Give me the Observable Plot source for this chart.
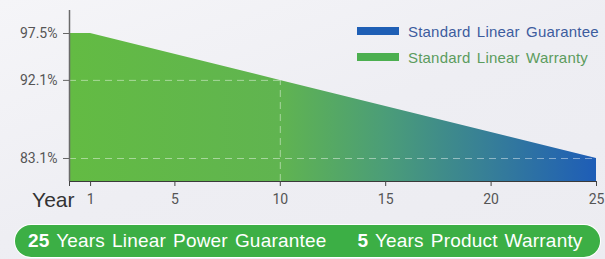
<!DOCTYPE html>
<html><head><meta charset="utf-8">
<script src="https://cdn.jsdelivr.net/npm/d3@7"></script>
<script src="https://cdn.jsdelivr.net/npm/@observablehq/plot@0.6"></script>
<style>
html,body{margin:0;padding:0;}
body{width:605px;height:259px;overflow:hidden;background:#eeeef3;font-family:Arial,"Liberation Sans",sans-serif;}
#wrap{position:relative;width:605px;height:259px;background:linear-gradient(160deg,#f5f5f8 0%,#eeeef3 50%,#ececf1 100%);}
#chart{position:absolute;left:0;top:0;}
.leg{position:absolute;left:357px;height:14px;display:flex;align-items:center;font-size:15px;word-spacing:2px;letter-spacing:0.2px;white-space:nowrap;}
.leg span.sw{display:inline-block;width:42px;height:8px;margin-right:9px;}
#banner{position:absolute;left:15px;top:225px;width:585px;height:32px;border-radius:16px;background:#3caf45;color:#fff;font-size:19px;word-spacing:1.5px;letter-spacing:0.2px;display:flex;align-items:center;white-space:nowrap;box-shadow:0 0 0 1px #fff;}
#banner .b{font-weight:bold;}
</style></head>
<body>
<div id="wrap">
  <div id="chart"></div>
  <div id="legend"></div>
  <div id="banner"></div>
</div>
<script>
// data
const years = [0, 1, 10, 25];
const values = [97.5, 97.5, 92.1, 83.1];
const yTicks = [83.1, 92.1, 97.5];
const xTicks = [0, 1, 5, 10, 15, 20, 25];
const markYears = [10, 25];
const markValues = [92.1, 83.1];
const xLabel = "Year";
const legendLabels = ["Standard Linear Guarantee", "Standard Linear Warranty"];
const legendColors = ["#1f5fb5", "#4caf50"];
const legendTextColors = ["#3d5c9e", "#5c9c5e"];
const bannerNums = ["25", "5"];
const bannerTexts = [" Years Linear Power Guarantee", " Years Product Warranty"];

const yMin = 80.45, yMax = 100.15;
const data = years.map((y, i) => ({year: y, value: values[i]}));

const gradDefs = () => {
  const defs = d3.create("svg:defs");
  const g = defs.append("linearGradient").attr("id", "areaGrad")
    .attr("x1", 0).attr("x2", 1).attr("y1", 0).attr("y2", 0);
  [[0, "#63bb43"], [0.4, "#60b450"], [0.6, "#4b9d78"], [0.8, "#367e98"], [1, "#1e5db7"]]
    .forEach(([o, c]) => g.append("stop").attr("offset", o).attr("stop-color", c));
  return defs.node();
};

const plot = Plot.plot({
  width: 605,
  height: 215,
  marginLeft: 69,
  marginRight: 9,
  marginTop: 10,
  marginBottom: 34,
  x: {domain: [0, 25]},
  y: {domain: [yMin, yMax]},
  style: {background: "transparent", color: "#555", fontFamily: "Roboto, Arial, sans-serif"},
  marks: [
    gradDefs,
    Plot.areaY(data, {x: "year", y1: yMin, y2: "value", fill: "url(#areaGrad)"}),
    Plot.ruleY(markValues, {x1: 0, x2: (d, i) => markYears[i], stroke: "#ffffff", strokeOpacity: 0.45, strokeDasharray: "7,5"}),
    Plot.ruleX([markYears[0]], {y1: yMin, y2: markValues[0], stroke: "#ffffff", strokeOpacity: 0.45, strokeDasharray: "7,5"}),
    Plot.ruleX([0], {stroke: "#6a6a6a", strokeWidth: 1.5}),
    Plot.ruleY([yMin], {stroke: "#3a3a3a", strokeWidth: 1.2}),
    Plot.axisY({ticks: yTicks, tickFormat: d => d + "%", tickSize: 6, tickPadding: 6, fontSize: 14, stroke: "#666", fill: "#555", label: null}),
    Plot.axisX({ticks: xTicks, tickFormat: d => d === 0 ? "" : String(d), tickSize: 5, tickPadding: 8, fontSize: 14, stroke: "#444", fill: "#555", label: null}),
    Plot.text([xLabel], {frameAnchor: "bottom-left", dx: 5, dy: 19, textAnchor: "end", lineAnchor: "middle", fontSize: 21, fill: "#333", fontFamily: "Arial, sans-serif"})
  ]
});
document.getElementById("chart").appendChild(plot);

const legend = document.getElementById("legend");
legendLabels.forEach((lab, i) => {
  const row = document.createElement("div");
  row.className = "leg";
  row.style.top = (i === 0 ? 24 : 50) + "px";
  row.style.color = legendTextColors[i];
  const sw = document.createElement("span");
  sw.className = "sw";
  sw.style.background = legendColors[i];
  row.appendChild(sw);
  row.appendChild(document.createTextNode(lab));
  legend.appendChild(row);
});

const banner = document.getElementById("banner");
bannerNums.forEach((n, i) => {
  const s = document.createElement("span");
  s.style.marginLeft = i === 0 ? "13px" : "31px";
  const b = document.createElement("span");
  b.className = "b";
  b.textContent = n;
  s.appendChild(b);
  s.appendChild(document.createTextNode(bannerTexts[i]));
  banner.appendChild(s);
});
</script>
</body></html>
